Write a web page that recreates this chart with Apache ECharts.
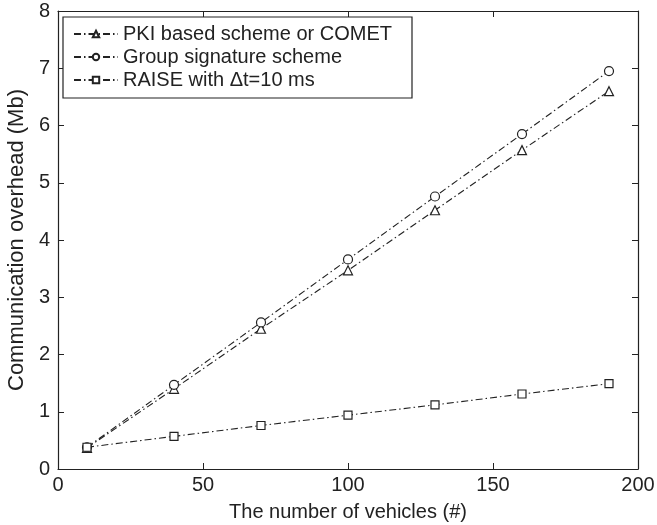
<!DOCTYPE html>
<html><head><meta charset="utf-8">
<script src="https://cdn.jsdelivr.net/npm/echarts@6/dist/echarts.min.js"></script>
<style>html,body{margin:0;padding:0;background:#fff}#c{width:657px;height:525px}</style>
</head><body><div id="c"></div>
<script>
const vehicles = [10, 40, 70, 100, 130, 160, 190];
const pkiValues = [0.37, 1.40, 2.45, 3.47, 4.52, 5.57, 6.60];
const groupValues = [0.38, 1.47, 2.56, 3.66, 4.76, 5.85, 6.95];
const raiseValues = [0.38, 0.57, 0.76, 0.94, 1.12, 1.31, 1.49];
const seriesNames = ['PKI based scheme or COMET', 'Group signature scheme', 'RAISE with \u0394t=10 ms'];
const xTicks = [0, 50, 100, 150, 200];
const yTicks = [0, 1, 2, 3, 4, 5, 6, 7, 8];

const font = 'Liberation Sans, Arial, Helvetica, sans-serif';
const dash = [7, 3, 1.5, 3];
function pairs(v){ return vehicles.map((x,i)=>[x, v[i]]); }
function mk(name, data, symbol, size){
  return {name, type:'line', data: pairs(data), symbol, symbolSize:size,
    showSymbol:true, itemStyle:{color:'#fff', borderColor:'#222', borderWidth:1.2},
    lineStyle:{color:'#222', width:1.1, type:dash}, emphasis:{disabled:true}, z:3};
}
const chart = echarts.init(document.getElementById('c'), null, {renderer:'canvas'});
const axisCommon = {
  axisLine:{show:true, onZero:false, lineStyle:{color:'#222', width:1.2}},
  axisTick:{show:true, inside:true, length:6, lineStyle:{color:'#222', width:1}},
  splitLine:{show:false}
};
chart.setOption({
  animation:false,
  textStyle:{fontFamily:font},
  grid:{left:58, right:19, top:11, bottom:56, containLabel:false, outerBoundsMode:'none'},
  xAxis:[
    Object.assign({type:'value', min:0, max:200, interval:50, position:'bottom',
      name:'The number of vehicles (#)', nameLocation:'middle', nameGap:33,
      nameTextStyle:{fontSize:20, color:'#222', fontFamily:font},
      axisLabel:{fontSize:20, color:'#222', margin:6, fontFamily:font}}, axisCommon),
    Object.assign({type:'value', min:0, max:200, interval:50, position:'top', axisLabel:{show:false}}, axisCommon)
  ],
  yAxis:[
    Object.assign({type:'value', min:0, max:8, interval:1, position:'left',
      name:'Communication overhead (Mb)', nameLocation:'middle', nameGap:30,
      nameTextStyle:{fontSize:22, color:'#222', fontFamily:font},
      axisLabel:{fontSize:20, color:'#222', margin:8, fontFamily:font}}, axisCommon),
    Object.assign({type:'value', min:0, max:8, interval:1, position:'right', axisLabel:{show:false}}, axisCommon)
  ],
  legend:{
    orient:'vertical', left:68, top:19, itemWidth:44, itemHeight:8, itemGap:3,
    textStyle:{fontSize:20, color:'#222', fontFamily:font},
    data: seriesNames, selectedMode:false
  },
  graphic:[{type:'rect', shape:{x:63, y:17, width:349, height:81},
    style:{fill:'#fff', stroke:'#222', lineWidth:1.2}, z:1}],
  series:[
    mk(seriesNames[0], pkiValues, 'triangle', 9),
    mk(seriesNames[1], groupValues, 'circle', 9),
    mk(seriesNames[2], raiseValues, 'rect', 8)
  ]
});
</script></body></html>
